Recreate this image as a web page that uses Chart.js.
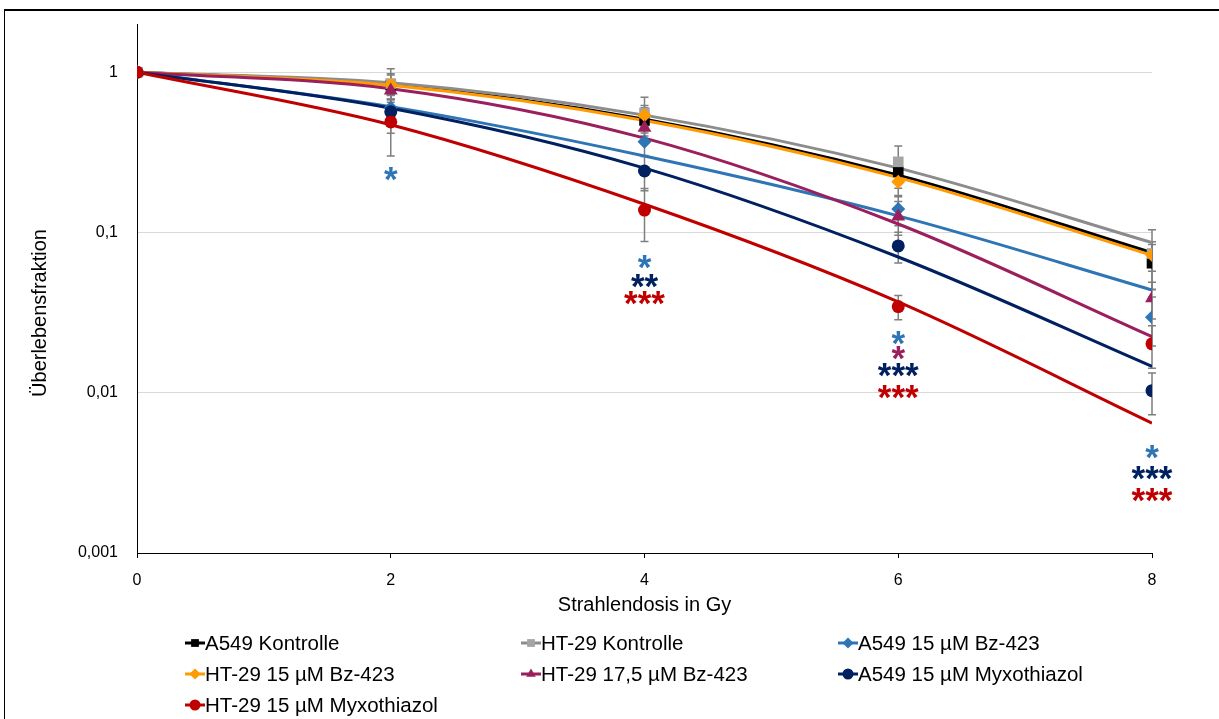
<!DOCTYPE html>
<html>
<head>
<meta charset="utf-8">
<script src="https://cdn.jsdelivr.net/npm/chart.js@4.4.1/dist/chart.umd.min.js"></script>
<style>
  body { margin: 0; background: #fff; }
  .frame { position: absolute; left: 4px; top: 9px; width: 1300px; height: 800px; border-left: 1px solid #000; border-top: 2px solid #000; }
  .wrap { position: absolute; left: 0; top: 0; width: 1219px; height: 719px; }
</style>
</head>
<body>
<div class="frame"></div>
<div class="wrap"><canvas id="myChart" width="1219" height="719"></canvas></div>
<script>
// Strahlendosis (Gy)
const doses = [0, 2, 4, 6, 8];

const seriesNames = [
  "A549 Kontrolle",
  "HT-29 Kontrolle",
  "A549 15 µM Bz-423",
  "HT-29 15 µM Bz-423",
  "HT-29 17,5 µM Bz-423",
  "A549 15 µM Myxothiazol",
  "HT-29 15 µM Myxothiazol",
];

// gemessene Überlebensfraktion (Marker)
const pointsA549Ctrl = [1, 0.83, 0.50, 0.239, 0.0643];
const pointsHT29Ctrl = [1, 0.85, 0.557, 0.276, 0.074];
const pointsA549Bz = [1, 0.6, 0.368, 0.14, 0.0296];
const pointsHT29Bz = [1, 0.84, 0.54, 0.207, 0.0724];
const pointsHT29Bz175 = [1, 0.77, 0.45, 0.126, 0.0389];
const pointsA549Myxo = [1, 0.566, 0.242, 0.0824, 0.0103];
const pointsHT29Myxo = [1, 0.49, 0.138, 0.0345, 0.0202];

// Fehlerbalken (Standardabweichung)
const errA549Ctrl = [0, 0.15, 0.1, 0.05, 0.02];
const errHT29Ctrl = [0, 0.2, 0.14, 0.07, 0.03];
const errA549Bz = [0, 0.12, 0.07, 0.03, 0.01];
const errHT29Bz = [0, 0.12, 0.08, 0.04, 0.015];
const errHT29Bz175 = [0, 0.1, 0.08, 0.03, 0.01];
const errA549Myxo = [0, 0.15, 0.06, 0.018, 0.003];
const errHT29Myxo = [0, 0.19, 0.05, 0.006, 0.006];

const fitA549Ctrl = [1, 0.84, 0.51, 0.228, 0.0748];
const fitHT29Ctrl = [1, 0.86, 0.54, 0.252, 0.0864];
const fitA549Bz = [1, 0.61, 0.30, 0.127, 0.0438];
const fitHT29Bz = [1, 0.83, 0.50, 0.22, 0.072];
const fitHT29Bz175 = [1, 0.79, 0.388, 0.113, 0.0224];
const fitA549Myxo = [1, 0.596, 0.252, 0.0703, 0.0146];
const fitHT29Myxo = [1, 0.47, 0.15, 0.0369, 0.00647];

const yTicks = [0.001, 0.01, 0.1, 1];
const yTickLabels = ["0,001", "0,01", "0,1", "1"];

// Signifikanzsterne: Dosis, Höhe (Wert), Text, Serie
const starDoses = [2, 4, 4, 4, 6, 6, 6, 6, 8, 8, 8];
const starLevels = [0.228, 0.0649, 0.0494, 0.0384, 0.0216, 0.0175, 0.0136, 0.00995, 0.00421, 0.00309, 0.00226];
const starTexts = ["*", "*", "**", "***", "*", "*", "***", "***", "*", "***", "***"];
const starSeries = [2, 2, 5, 6, 2, 4, 5, 6, 2, 5, 6];

const allPoints = [pointsA549Ctrl, pointsHT29Ctrl, pointsA549Bz, pointsHT29Bz, pointsHT29Bz175, pointsA549Myxo, pointsHT29Myxo];
const allErrors = [errA549Ctrl, errHT29Ctrl, errA549Bz, errHT29Bz, errHT29Bz175, errA549Myxo, errHT29Myxo];
const allFits = [fitA549Ctrl, fitHT29Ctrl, fitA549Bz, fitHT29Bz, fitHT29Bz175, fitA549Myxo, fitHT29Myxo];

const lineColors = ["#000000", "#8c8c8c", "#2e75b6", "#ff9a00", "#9a1f5c", "#002060", "#c00000"];
const markerColors = ["#000000", "#a5a5a5", "#2e75b6", "#ff9a00", "#9a1f5c", "#002060", "#c00000"];
const markerStyles = ["rect", "rect", "rectRot", "rectRot", "triangle", "circle", "circle"];
const markerSizes = [7.5, 7.5, 7, 7, 8, 6.5, 6.5];

const FONT = "'Liberation Sans', Arial, sans-serif";

const toXY = (vals) => vals.map((v, i) => ({ x: doses[i], y: v }));

const datasets = [];
seriesNames.forEach((name, i) => {
  //Fitkurve
  datasets.push({
    type: "line",
    label: name + " fit",
    data: toXY(allFits[i]),
    borderColor: lineColors[i],
    borderWidth: 3,
    pointRadius: 0,
    cubicInterpolationMode: "monotone",
    fill: false,
    order: 30 - i,
  });
  //Messpunkte
  datasets.push({
    type: "scatter",
    label: name,
    data: toXY(allPoints[i]),
    showLine: false,
    pointStyle: markerStyles[i],
    pointRadius: markerSizes[i],
    pointBackgroundColor: markerColors[i],
    pointBorderColor: markerColors[i],
    pointBorderWidth: 0,
    order: 10 - i,
  });
});

//Fehlerbalken
const errorBarPlugin = {
  id: "errorBars",
  beforeDatasetsDraw(chart) {
    const { ctx, scales: { x, y } } = chart;
    ctx.save();
    ctx.strokeStyle = "#7f7f7f";
    ctx.lineWidth = 1.5;
    allErrors.forEach((errs, i) => {
      errs.forEach((e, j) => {
        if (!e) return;
        const v = allPoints[i][j];
        const px = x.getPixelForValue(doses[j]);
        const top = y.getPixelForValue(v + e);
        const bot = y.getPixelForValue(Math.max(v - e, 0.0011));
        ctx.beginPath();
        ctx.moveTo(px, top);
        ctx.lineTo(px, bot);
        ctx.moveTo(px - 4, top);
        ctx.lineTo(px + 4, top);
        ctx.moveTo(px - 4, bot);
        ctx.lineTo(px + 4, bot);
        ctx.stroke();
      });
    });
    ctx.restore();
  },
};

//Sterne, Achsentitel, Legende
const labelPlugin = {
  id: "labels",
  afterDraw(chart) {
    const { ctx, scales: { x, y } } = chart;
    ctx.save();

    ctx.font = "bold 35px " + FONT;
    ctx.textAlign = "center";
    ctx.textBaseline = "alphabetic";
    starTexts.forEach((t, k) => {
      ctx.fillStyle = lineColors[starSeries[k]];
      const px = x.getPixelForValue(starDoses[k]);
      const py = y.getPixelForValue(starLevels[k]);
      ctx.fillText(t, px, py + 16);
    });

    ctx.fillStyle = "#000";
    ctx.font = "20px " + FONT;
    ctx.textBaseline = "middle";
    ctx.translate(40, 313);
    ctx.rotate(-Math.PI / 2);
    ctx.fillText("Überlebensfraktion", 0, 0);
    ctx.setTransform(1, 0, 0, 1, 0, 0);

    const colX = [185, 521, 838];
    const rowY = [643, 674, 705];
    ctx.font = "20.5px " + FONT;
    ctx.textAlign = "left";
    seriesNames.forEach((name, i) => {
      const lx = colX[i % 3];
      const ly = rowY[Math.floor(i / 3)];
      ctx.strokeStyle = lineColors[i];
      ctx.lineWidth = 3;
      ctx.beginPath();
      ctx.moveTo(lx, ly);
      ctx.lineTo(lx + 20, ly);
      ctx.stroke();
      ctx.fillStyle = markerColors[i];
      ctx.beginPath();
      Chart.helpers.drawPoint(ctx, { pointStyle: markerStyles[i], radius: 5.5, borderWidth: 0 }, lx + 10, ly);
      ctx.fillStyle = "#000";
      ctx.fillText(name, lx + 20, ly + 1);
    });
    ctx.restore();
  },
};

const ctx = document.getElementById("myChart").getContext("2d");
new Chart(ctx, {
  data: { datasets: datasets },
  options: {
    responsive: false,
    animation: false,
    layout: { padding: { top: 24, right: 67, bottom: 99, left: 0 } },
    plugins: {
      legend: { display: false },
      tooltip: { enabled: false },
    },
    scales: {
      x: {
        type: "linear",
        min: 0,
        max: 8,
        afterFit: (scale) => { scale.height = 67; },
        ticks: {
          stepSize: 2,
          color: "#000",
          padding: 13,
          font: { size: 16, family: FONT },
        },
        grid: { drawOnChartArea: false, drawTicks: true, tickLength: 5, color: "#000" },
        border: { color: "#000", width: 1 },
        title: {
          display: true,
          text: "Strahlendosis in Gy",
          color: "#000",
          padding: { top: 0, bottom: 3 },
          font: { size: 20, family: FONT },
        },
      },
      y: {
        type: "logarithmic",
        min: 0.001,
        max: 2,
        afterFit: (scale) => {
          scale.width = 137;
          scale.paddingTop = 0;
          scale.paddingBottom = 0;
        },
        afterBuildTicks: (scale) => { scale.ticks = yTicks.map((v) => ({ value: v })); },
        ticks: {
          color: "#000",
          padding: 19,
          font: { size: 16, family: FONT },
          callback: (v) => yTickLabels[yTicks.indexOf(v)],
        },
        grid: { color: "#d9d9d9", drawTicks: false },
        border: { color: "#000", width: 1 },
      },
    },
  },
  plugins: [errorBarPlugin, labelPlugin],
});
</script>
</body>
</html>
